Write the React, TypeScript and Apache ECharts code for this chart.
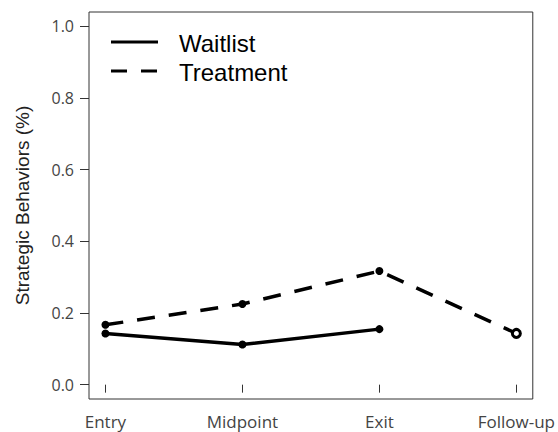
import React, { useEffect, useRef } from "react";
import * as echarts from "echarts";

const categories = ["Entry", "Midpoint", "Exit", "Follow-up"];
const waitlist = [0.143, 0.112, 0.155, null];
const treatment = [0.167, 0.225, 0.317, 0.143];
const yTicks = [0, 0.2, 0.4, 0.6, 0.8, 1.0];
const seriesNames = ["Waitlist", "Treatment"];

export default function App() {
  const ref = useRef<HTMLDivElement>(null);
  useEffect(() => {
    if (!ref.current) return;
    const chart = echarts.init(ref.current, null, { renderer: "svg" });
    const xPos = categories.map((_, i) => i + 1);
    const wData = waitlist
      .map((v, i) => (v == null ? null : [xPos[i], v]))
      .filter((d) => d != null);
    const tData = treatment.map((v, i) => {
      const last = i === treatment.length - 1;
      return last
        ? {
            value: [xPos[i], v],
            symbol: "circle",
            symbolSize: 8,
            itemStyle: { color: "#fff", borderColor: "#000", borderWidth: 3 },
          }
        : { value: [xPos[i], v] };
    });
    const tickFont = "'Open Sans', 'DejaVu Sans', sans-serif";
    const legendFont = "'Liberation Sans', Arial, sans-serif";
    chart.setOption({
      animation: false,
      backgroundColor: "#fff",
      grid: {
        left: 89,
        top: 12,
        right: 22,
        bottom: 33,
        show: true,
        borderColor: "#333",
        borderWidth: 1,
        backgroundColor: "transparent",
      },
      xAxis: {
        type: "value",
        min: 0.88,
        max: 4.12,
        axisLine: { show: false },
        splitLine: { show: false },
        axisTick: {
          show: true,
          inside: false,
          length: 8,
          customValues: xPos,
          lineStyle: { color: "#333", width: 1 },
        },
        axisLabel: {
          customValues: xPos,
          formatter: (v: number) => categories[Math.round(v) - 1] ?? "",
          color: "#444",
          fontSize: 17,
          fontFamily: tickFont,
          margin: 14,
        },
      },
      yAxis: {
        type: "value",
        min: -0.04,
        max: 1.04,
        name: "Strategic Behaviors (%)",
        nameLocation: "middle",
        nameGap: 57,
        nameTextStyle: {
          fontSize: 19,
          color: "#222",
          fontFamily: legendFont,
        },
        axisLine: { show: false },
        splitLine: { show: false },
        axisTick: {
          show: true,
          inside: false,
          length: 9,
          customValues: yTicks,
          lineStyle: { color: "#333", width: 1 },
        },
        axisLabel: {
          customValues: yTicks,
          formatter: (v: number) => v.toFixed(1),
          color: "#444",
          fontSize: 16,
          fontFamily: tickFont,
          margin: 15,
        },
      },
      graphic: [
        {
          type: "line",
          shape: { x1: 111, y1: 42, x2: 158, y2: 42 },
          style: { stroke: "#000", lineWidth: 3 },
        },
        {
          type: "line",
          shape: { x1: 111, y1: 71, x2: 158, y2: 71 },
          style: { stroke: "#000", lineWidth: 3, lineDash: [16, 14] },
        },
        {
          type: "text",
          x: 179,
          y: 43,
          style: {
            text: seriesNames[0],
            fontSize: 24,
            fill: "#000",
            fontFamily: legendFont,
            verticalAlign: "middle",
          },
        },
        {
          type: "text",
          x: 179,
          y: 72,
          style: {
            text: seriesNames[1],
            fontSize: 24,
            fill: "#000",
            fontFamily: legendFont,
            verticalAlign: "middle",
          },
        },
      ],
      series: [
        {
          name: seriesNames[0],
          type: "line",
          data: wData,
          symbol: "circle",
          symbolSize: 8,
          itemStyle: { color: "#000" },
          lineStyle: { color: "#000", width: 3.5 },
        },
        {
          name: seriesNames[1],
          type: "line",
          data: tData,
          symbol: "circle",
          symbolSize: 8,
          itemStyle: { color: "#000" },
          lineStyle: { color: "#000", width: 3.5, type: [18, 14] },
        },
      ],
    });
    return () => chart.dispose();
  }, []);
  return (
    <div
      ref={ref}
      style={{ position: "absolute", left: 0, top: 0, width: 558, height: 432 }}
    />
  );
}
